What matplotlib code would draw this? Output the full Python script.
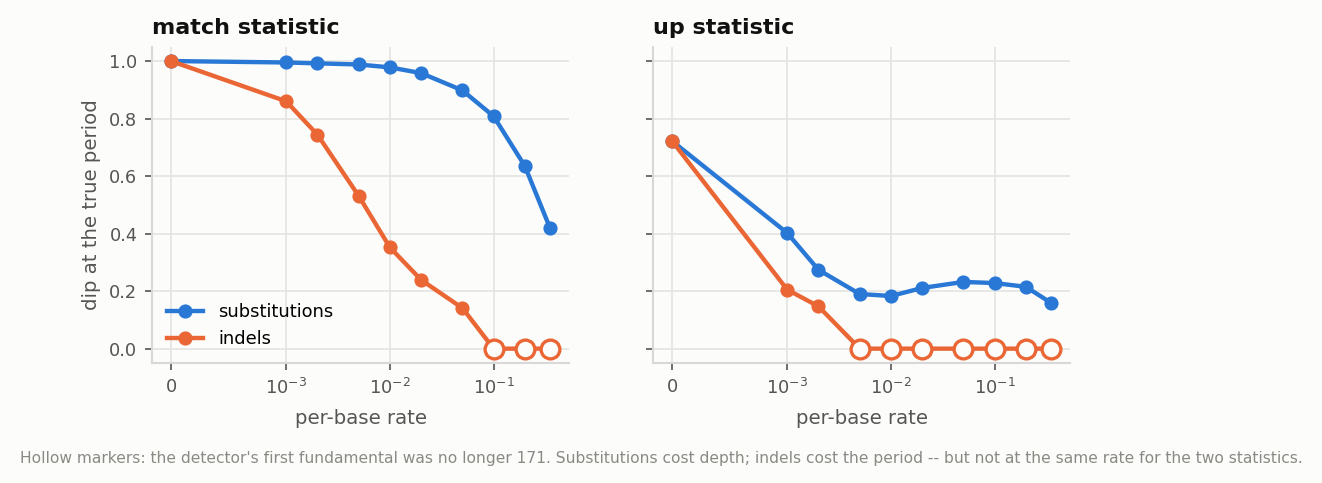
import numpy as np
import matplotlib
matplotlib.use("Agg")
import matplotlib.pyplot as plt

# per-base error rates (0 sits in the linear part of the symlog axis)
rates = [0, 1e-3, 2e-3, 5e-3, 1e-2, 2e-2, 5e-2, 1e-1, 2e-1, 3.5e-1]

# dip at the true period
match_subs = [1.0, 0.995, 0.992, 0.988, 0.978, 0.958, 0.898, 0.808, 0.635, 0.419]
match_indels = [1.0, 0.860, 0.744, 0.531, 0.352, 0.239, 0.141, 0.0, 0.0, 0.0]
up_subs = [0.722, 0.402, 0.274, 0.190, 0.183, 0.211, 0.232, 0.228, 0.215, 0.159]
up_indels = [0.722, 0.205, 0.147, 0.0, 0.0, 0.0, 0.0, 0.0, 0.0, 0.0]

# True where the detector's first fundamental was no longer 171
match_lost = [False] * 7 + [True] * 3
up_lost = [False] * 3 + [True] * 7

BG = "#fcfcfa"
BLUE = "#2a78d6"
ORANGE = "#eb6635"

fig = plt.figure(figsize=(1322 / 150, 483 / 150), dpi=150, facecolor=BG)
ax1 = fig.add_axes([0.115, 0.2484, 0.3154, 0.655])
ax2 = fig.add_axes([0.494, 0.2484, 0.3154, 0.655], sharey=ax1)

panels = [
    (ax1, "match statistic", match_subs, match_indels, match_lost),
    (ax2, "up statistic", up_subs, up_indels, up_lost),
]

for ax, title, subs, indels, lost in panels:
    ax.set_facecolor(BG)
    ax.plot(rates, subs, color=BLUE, lw=2.1, marker="o", ms=5.8, label="substitutions")
    ax.plot(rates, indels, color=ORANGE, lw=2.1, marker="o", ms=5.8, label="indels")
    r_lost = [r for r, l in zip(rates, lost) if l]
    v_lost = [v for v, l in zip(indels, lost) if l]
    ax.plot(r_lost, v_lost, ls="none", marker="o", ms=9, mfc=BG, mec=ORANGE, mew=1.6)

    ax.set_xscale("symlog", linthresh=1e-3)
    ax.set_xticks([0, 1e-3, 1e-2, 1e-1])
    ax.xaxis.set_minor_locator(matplotlib.ticker.NullLocator())
    ax.set_title(title, loc="left", fontsize=10.7, fontweight="bold", color="#111111")
    ax.set_xlabel("per-base rate", fontsize=9.5, color="#555555", labelpad=5.5)
    ax.grid(True, color="#e3e3e3", lw=0.8)
    ax.set_axisbelow(True)
    for side in ["top", "right"]:
        ax.spines[side].set_visible(False)
    for side in ["left", "bottom"]:
        ax.spines[side].set_color("#d8d8d8")
        ax.spines[side].set_linewidth(1.0)
    ax.tick_params(labelsize=8.5, colors="#555555", length=3.5, width=0.8)

ax1.set_ylabel("dip at the true period", fontsize=9.5, color="#555555")
ax1.set_ylim(-0.05, 1.05)
ax1.set_yticks([0.0, 0.2, 0.4, 0.6, 0.8, 1.0])
plt.setp(ax2.get_yticklabels(), visible=False)

ax1.legend(loc="lower left", frameon=False, fontsize=8.6, borderaxespad=0.45,
           handletextpad=0.85)

fig.text(0.5, 0.05, "Hollow markers: the detector's first fundamental was no longer 171. "
         "Substitutions cost depth; indels cost the period -- but not at the same rate for the two statistics.",
         ha="center", va="center", fontsize=7.45, color="#8a8a84")

fig.savefig("out.png", dpi=150, facecolor=BG)
